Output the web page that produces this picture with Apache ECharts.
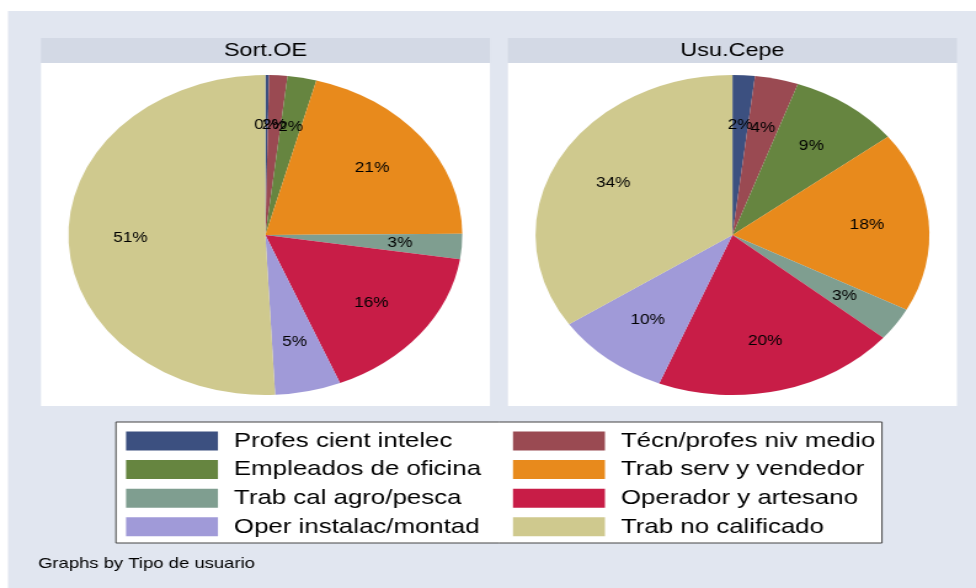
<!DOCTYPE html>
<html>
<head>
<meta charset="utf-8">
<script src="https://cdn.jsdelivr.net/npm/echarts@6/dist/echarts.min.js"></script>
<style>
html,body{margin:0;padding:0;background:#ffffff;width:976px;height:588px;overflow:hidden;}
#c{position:absolute;left:0;top:0;width:793px;height:588px;transform:scaleX(1.2308);transform-origin:0 0;}
</style>
</head>
<body>
<div id="c"></div>
<script>
// ---- data ----
var categories = ['Profes cient intelec','Técn/profes niv medio','Empleados de oficina','Trab serv y vendedor',
                  'Trab cal agro/pesca','Operador y artesano','Oper instalac/montad','Trab no calificado'];
var panelTitles = ['Sort.OE','Usu.Cepe'];
var sortOE  = [0.3, 1.5, 2.37, 20.7, 2.55, 16.4, 5.4, 50.8];
var usuCepe = [1.83, 3.56, 9.1, 18.25, 3.37, 19.96, 9.5, 34.43];
var colors = ['#3c5080','#9a4a52','#668540','#e88a1c','#7f9e90','#c81d47','#a09ad8','#cfc98e'];
var note = 'Graphs by Tipo de usuario';

var chart = echarts.init(document.getElementById('c'), null, {renderer:'canvas'});
var FONT = 'Liberation Sans, Arial, sans-serif';
var R = 160, CY = 235;
var centersX = [215.6, 595.1];
var panels = [[33.3, 398.1], [412.7, 777.5]];

function mk(vals) { return categories.map(function(n,i){ return {name:n, value:vals[i]}; }); }
var datasets = [sortOE, usuCepe];

var series = [];
datasets.forEach(function(vals, k){
  series.push({
    type:'pie', name:panelTitles[k], center:[centersX[k], CY], radius:[0, R],
    startAngle:90, clockwise:true, data:mk(vals), label:{show:false}, labelLine:{show:false},
    itemStyle:{borderWidth:0}, emphasis:{disabled:true}, silent:true, animation:false
  });
});
datasets.forEach(function(vals, k){
  series.push({
    type:'pie', name:panelTitles[k]+'_lbl', center:[centersX[k], CY], radius:[0, R*4/3],
    startAngle:90, clockwise:true, data:mk(vals), z:10,
    itemStyle:{color:'rgba(0,0,0,0)', borderWidth:0},
    label:{show:true, position:'inside', color:'#000', fontFamily:FONT, fontSize:14,
      formatter:function(p){ return Math.round(p.percent) + '%'; }},
    labelLayout:{hideOverlap:false},
    labelLine:{show:false}, emphasis:{disabled:true}, silent:true, animation:false
  });
});

var graphics = [
  {type:'rect', shape:{x:6.5, y:11, width:800, height:600}, style:{fill:'#e1e6f0'}, z:-10}
];
panels.forEach(function(p, k){
  graphics.push({type:'rect', shape:{x:p[0], y:38, width:p[1]-p[0], height:25}, style:{fill:'#d3d9e5'}, z:-9});
  graphics.push({type:'rect', shape:{x:p[0], y:63, width:p[1]-p[0], height:343}, style:{fill:'#ffffff'}, z:-9});
  graphics.push({type:'text', x:(p[0]+p[1])/2, y:51, style:{text:panelTitles[k], fill:'#000', font:'19px ' + FONT,
    textAlign:'center', textVerticalAlign:'middle'}, z:5});
});
graphics.push({type:'rect', shape:{x:94.2, y:422, width:622.4, height:121}, style:{fill:'#ffffff', stroke:'#444', lineWidth:1}, z:-8});
graphics.push({type:'text', x:30.9, y:564, style:{text:note, fill:'#000', font:'15px ' + FONT,
  textAlign:'left', textVerticalAlign:'middle'}, z:5});

var legendCommon = {orient:'vertical', itemWidth:74.7, itemHeight:19, itemGap:7.6, icon:'rect',
  selectedMode:false, padding:0, textStyle:{fontFamily:FONT, fontSize:21, lineHeight:19, color:'#000', padding:[0,0,0,8]}};
var leftNames = [categories[0],categories[2],categories[4],categories[6]];
var rightNames = [categories[1],categories[3],categories[5],categories[7]];

chart.setOption({
  animation:false,
  backgroundColor:'#ffffff',
  color:colors,
  legend:[
    Object.assign({left:102.4, top:430.5, data:leftNames}, legendCommon),
    Object.assign({left:416.8, top:430.5, data:rightNames}, legendCommon)
  ],
  graphic:graphics,
  series:series
});
</script>
</body>
</html>
